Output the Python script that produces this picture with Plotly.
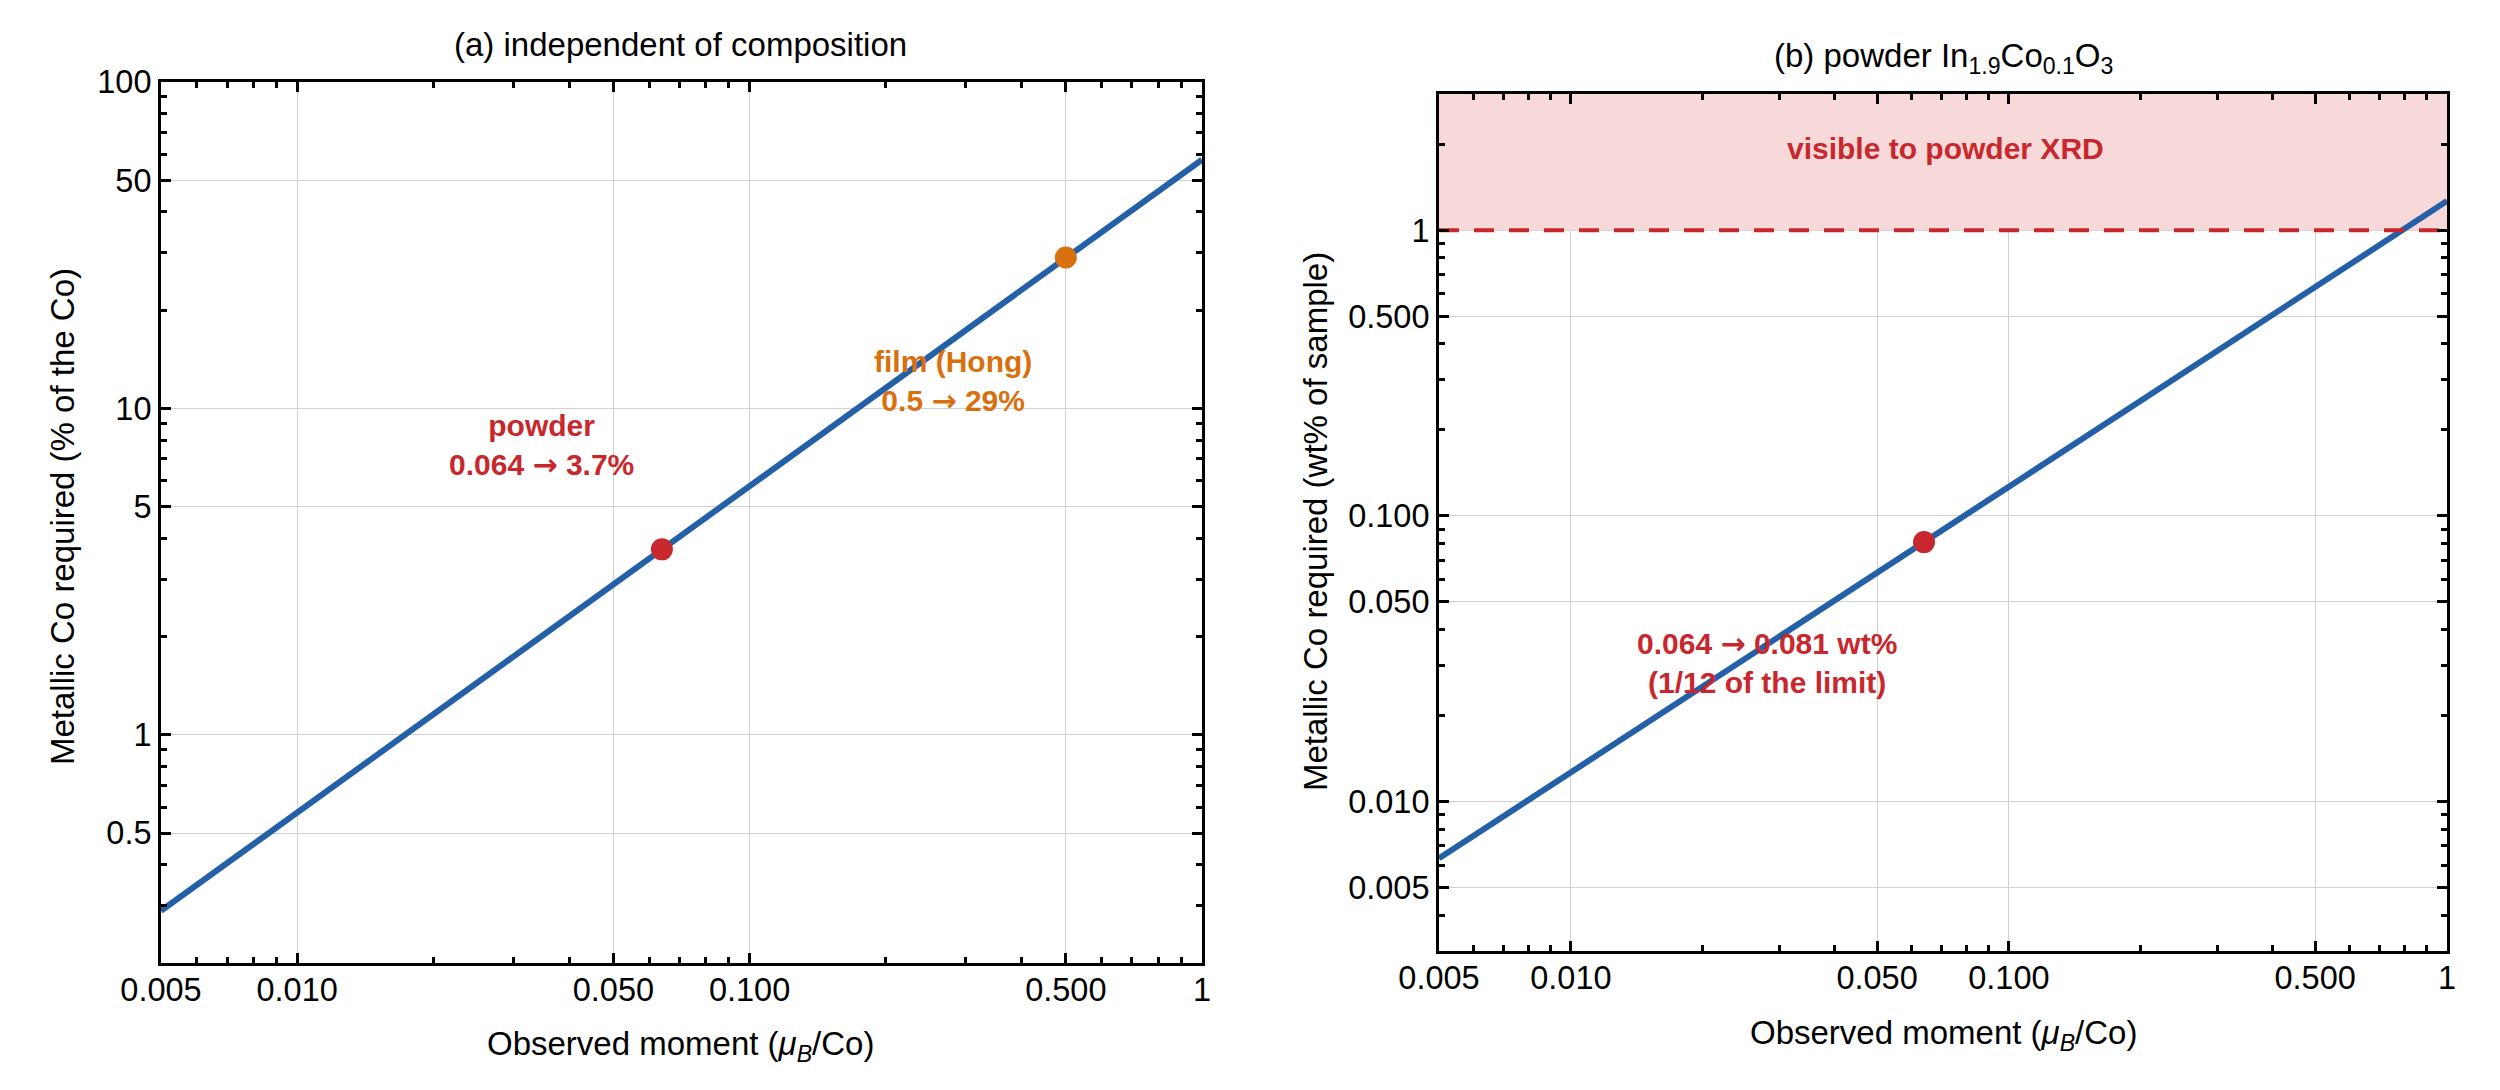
import math
import plotly.graph_objects as go

# data
moment = [0.005, 1.0]            # observed moment (muB/Co), line end points
co_pct = [0.289, 57.8]           # metallic Co required, % of the Co
co_wt = [0.00633, 1.266]         # metallic Co required, wt% of sample
powder_moment = [0.064]
powder_pct = [3.7]
powder_wt = [0.081]
film_moment = [0.5]
film_pct = [29]
xrd_limit = [1.0]                # wt%, visible to powder XRD above this

x_range = [0.005, 1]
left_yrange = [0.2, 100]
right_yrange = [0.003, 3]

x_ticks = [0.005, 0.01, 0.05, 0.1, 0.5, 1]
x_ticktext = ["0.005", "0.010", "0.050", "0.100", "0.500", "1"]
left_yticks = [0.5, 1, 5, 10, 50, 100]
left_yticktext = ["0.5", "1", "5", "10", "50", "100"]
right_yticks = [0.005, 0.01, 0.05, 0.1, 0.5, 1]
right_yticktext = ["0.005", "0.010", "0.050", "0.100", "0.500", "1"]

BLUE = "#2460A8"
RED = "#C8282D"
ORANGE = "#D9700F"
PINK = "#F8D9D9"
FONT = "Liberation Sans"
W, H = 2500, 1090


def minor_ticks(lo, hi):
    # 2..9 times each decade, inside the range
    out = []
    for e in range(-4, 3):
        for m in range(2, 10):
            v = round(m * 10 ** e, 8)
            if lo < v < hi:
                out.append(v)
    return out


def log_range(r):
    return [math.log10(r[0]), math.log10(r[1])]


def px(x, y):
    # pixel position -> paper coordinates
    return x / W, 1 - y / H


fig = go.Figure()

# (a) independent of composition
fig.add_trace(go.Scatter(x=moment, y=co_pct, mode="lines", line=dict(color=BLUE, width=6),
                         xaxis="x", yaxis="y", showlegend=False))
fig.add_trace(go.Scatter(x=powder_moment, y=powder_pct, mode="markers",
                         marker=dict(color=RED, size=22), xaxis="x", yaxis="y", showlegend=False))
fig.add_trace(go.Scatter(x=film_moment, y=film_pct, mode="markers",
                         marker=dict(color=ORANGE, size=22), xaxis="x", yaxis="y", showlegend=False))

# (b) powder In1.9Co0.1O3
fig.add_trace(go.Scatter(x=[x_range[0], x_range[1], x_range[1], x_range[0]],
                         y=[xrd_limit[0], xrd_limit[0], right_yrange[1], right_yrange[1]],
                         mode="lines", fill="toself", fillcolor=PINK, line=dict(width=0),
                         xaxis="x2", yaxis="y2", showlegend=False, hoverinfo="skip"))
fig.add_trace(go.Scatter(x=moment, y=co_wt, mode="lines", line=dict(color=BLUE, width=6),
                         xaxis="x2", yaxis="y2", showlegend=False))
fig.add_trace(go.Scatter(x=x_range, y=xrd_limit * 2, mode="lines",
                         line=dict(color=RED, width=4, dash="20px,15px"),
                         xaxis="x2", yaxis="y2", showlegend=False))
fig.add_trace(go.Scatter(x=powder_moment, y=powder_wt, mode="markers",
                         marker=dict(color=RED, size=22), xaxis="x2", yaxis="y2", showlegend=False))

frame = dict(showline=True, linecolor="black", linewidth=3, mirror="allticks",
             ticks="inside", ticklen=10, tickwidth=3, tickcolor="black",
             showgrid=True, gridcolor="#D0D0D0", gridwidth=1, zeroline=False,
             automargin=False,
             tickfont=dict(family=FONT, size=32.5, color="black"))

xminor = dict(tickvals=minor_ticks(*x_range), ticks="inside", ticklen=6, tickwidth=3,
              tickcolor="black", showgrid=False)

fig.update_layout(
    width=W, height=H,
    paper_bgcolor="white", plot_bgcolor="white",
    margin=dict(l=0, r=0, t=0, b=0),
    font=dict(family=FONT, size=33, color="black"),
    xaxis=dict(frame, type="log", domain=[161 / W, 1202 / W], anchor="y",
               range=log_range(x_range), tickvals=x_ticks, ticktext=x_ticktext,
               minor=xminor, ticklabelstandoff=-4),
    yaxis=dict(frame, type="log", domain=[1 - 963 / H, 1 - 82 / H], anchor="x",
               range=log_range(left_yrange), tickvals=left_yticks, ticktext=left_yticktext,
               minor=dict(xminor, tickvals=minor_ticks(*left_yrange))),
    xaxis2=dict(frame, type="log", domain=[1439 / W, 2447 / W], anchor="y2",
                range=log_range(x_range), tickvals=x_ticks, ticktext=x_ticktext,
                minor=xminor, ticklabelstandoff=-4),
    yaxis2=dict(frame, type="log", domain=[1 - 951 / H, 1 - 94 / H], anchor="x2",
                range=log_range(right_yrange), tickvals=right_yticks, ticktext=right_yticktext,
                minor=dict(xminor, tickvals=minor_ticks(*right_yrange))),
)

plain = dict(family=FONT, size=33, color="black")
x_title = "Observed moment (<i>μ</i><sub><i>B</i></sub>/Co)"

# panel titles and axis titles (placed in pixels)
texts = [
    ("(a) independent of composition", 681, 45, 0),
    ("(b) powder In<sub>1.9</sub>Co<sub>0.1</sub>O<sub>3</sub>", 1943, 58, 0),
    (x_title, 681, 1046, 0),
    (x_title, 1943, 1035, 0),
    ("Metallic Co required (% of the Co)", 62, 517, -90),
    ("Metallic Co required (wt% of sample)", 1315, 522, -90),
]
for text, x, y, angle in texts:
    xp, yp = px(x, y)
    fig.add_annotation(text=text, xref="paper", yref="paper", x=xp, y=yp,
                       xanchor="center", yanchor="middle", textangle=angle,
                       showarrow=False, font=plain)

# coloured labels (placed in pixels)
arrow = '<span style="font-family:DejaVu Sans">→</span>'
labels = [
    (f"<b>powder</b><br><b>0.064 {arrow} 3.7%</b>", 541, 445, RED),
    (f"<b>film (Hong)</b><br><b>0.5 {arrow} 29%</b>", 953, 381, ORANGE),
    ("<b>visible to powder XRD</b>", 1945, 148, RED),
    (f"<b>0.064 {arrow} 0.081 wt%</b><br><b>(1/12 of the limit)</b>", 1767, 662, RED),
]
for text, x, y, color in labels:
    xp, yp = px(x, y)
    fig.add_annotation(text=text, xref="paper", yref="paper", x=xp, y=yp,
                       xanchor="center", yanchor="middle", showarrow=False,
                       font=dict(family=FONT, size=30, color=color))

# the page body has a default 8px margin; remove it so the figure sits at (0, 0)
fig.write_html("out.html", config={"displayModeBar": False},
               post_script="document.body.style.margin='0';")
